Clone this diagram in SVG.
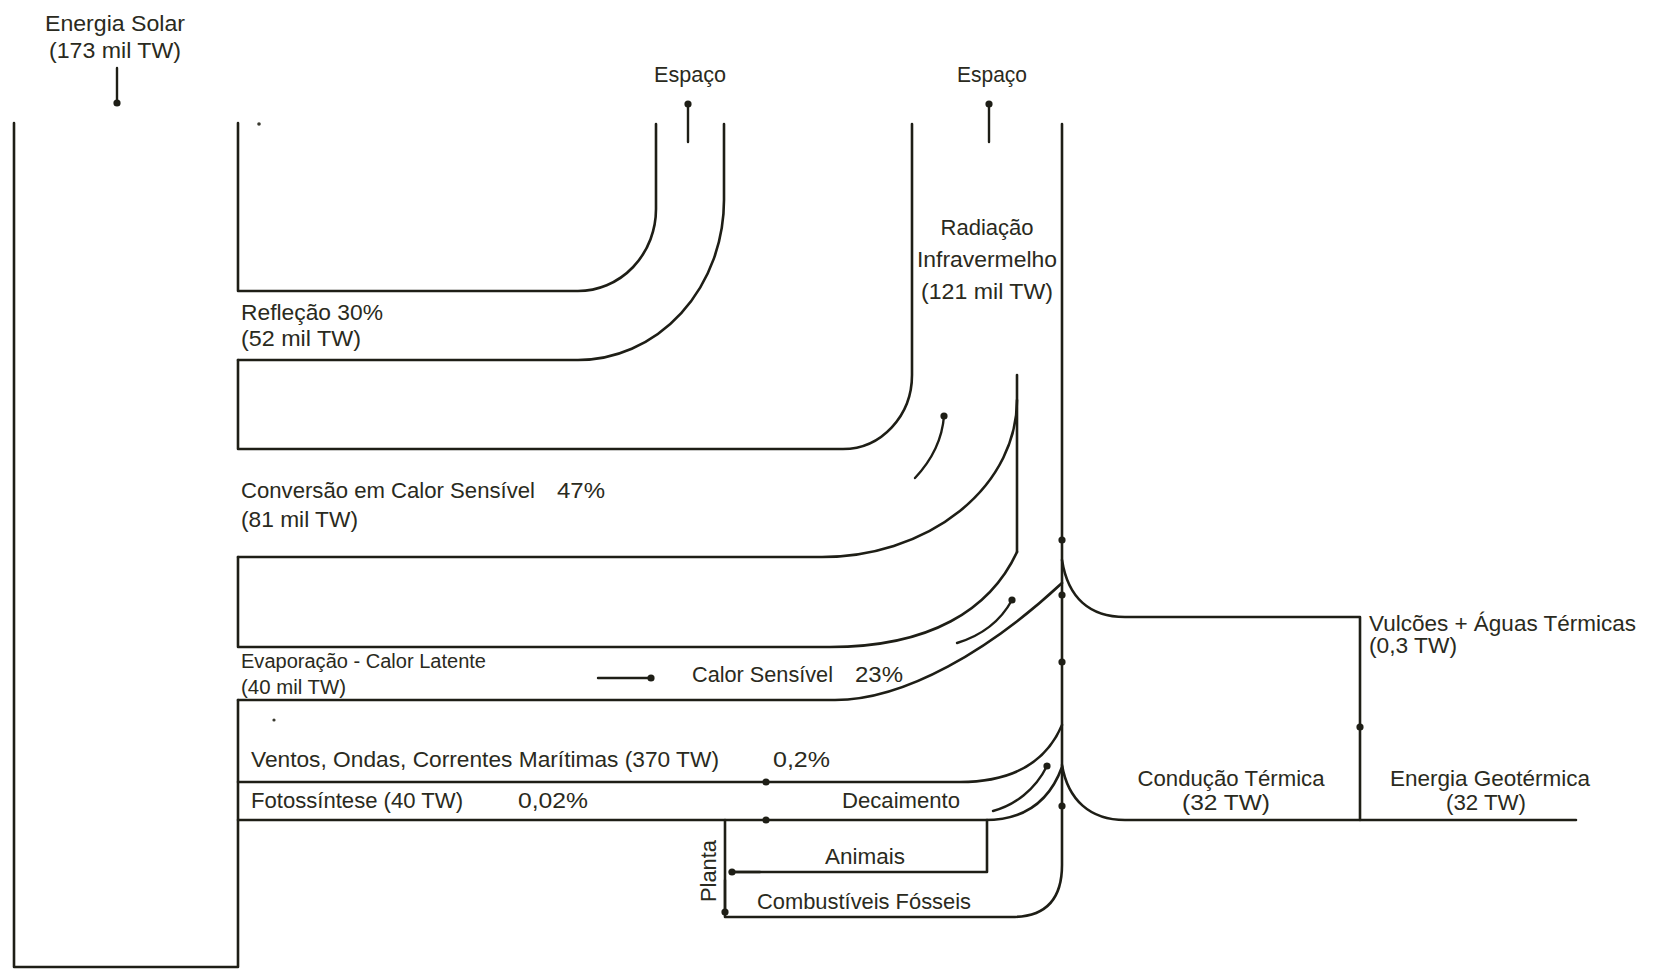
<svg xmlns="http://www.w3.org/2000/svg" width="1658" height="971" viewBox="0 0 1658 971">
<defs>
<style>
.ln{fill:none;stroke:#1e1e16;stroke-width:2.6;stroke-linecap:round;stroke-linejoin:round}
.ar{fill:none;stroke:#1e1e16;stroke-width:2.4;stroke-linecap:round;marker-end:url(#dot)}
.dt{fill:#1e1e16}
.sm{fill:#3a3a30}
text{font-family:"Liberation Sans",Arial,sans-serif;font-size:22px;fill:#2a2a20;lengthAdjust:spacingAndGlyphs}
.s20{font-size:20px}
.mid{text-anchor:middle}
</style>
<marker id="dot" markerUnits="userSpaceOnUse" markerWidth="9" markerHeight="9" refX="4.5" refY="4.5">
<circle cx="4.5" cy="4.5" r="3.6" fill="#1e1e16"/>
</marker>
</defs>
<rect width="1658" height="971" fill="#ffffff"/>

<g id="connectors">
<!-- solar frame -->
<path class="ln" d="M14,123 V967 H238 V700"/>
<!-- reflection band -->
<path class="ln" d="M238,123 V291 H578 A78,82 0 0 0 656,209 V124"/>
<path class="ln" d="M238,360 H578 A146,160 0 0 0 724,200 V124"/>
<!-- conversion band -->
<path class="ln" d="M238,360 V449 H843 A69,74 0 0 0 912,375 V124"/>
<path class="ln" d="M238,557 H822 A195,157 0 0 0 1017,400"/>
<path class="ln" d="M1017,375 V552"/>
<!-- evaporation / latent heat -->
<path class="ln" d="M238,557 V647 H830 C930,647 990,610 1017,552"/>
<path class="ln" d="M238,700 H835 C905,700 990,650 1062,583"/>
<!-- winds and photosynthesis -->
<path class="ln" d="M238,782 H960 C1010,782 1045,765 1062,725"/>
<path class="ln" d="M238,820 H985 C1025,820 1050,800 1062,767"/>
<!-- main infrared column and fossil fuels -->
<path class="ln" d="M1062,124 V865 C1062,900 1045,917 1012,917 H725 V820"/>
<path class="ln" d="M987,820 V872 H730"/>
<!-- geothermal -->
<path class="ln" d="M1062,560 C1068,598 1090,617 1125,617 H1360 V820"/>
<path class="ln" d="M1062,765 C1068,800 1090,820 1125,820 H1576"/>
<!-- arrows -->
<path class="ar" d="M117,68 V103"/>
<path class="ar" d="M688,142 V104"/>
<path class="ar" d="M989,142 V104"/>
<path class="ar" d="M915,478 C930,462 942,442 944,416"/>
<path class="ar" d="M957,643 C980,636 1000,622 1012,600"/>
<path class="ar" d="M993,811 C1015,805 1035,790 1047,766"/>
<path class="ar" d="M598,678 H651"/>
<path class="ar" d="M725,880 V912"/>
<path class="ar" d="M760,872 H732"/>
<!-- junction dots -->
<circle class="dt" cx="766" cy="782" r="3.6"/>
<circle class="dt" cx="766" cy="820" r="3.6"/>
<circle class="dt" cx="1062" cy="540" r="3.6"/>
<circle class="dt" cx="1062" cy="595" r="3.6"/>
<circle class="dt" cx="1062" cy="662" r="3.6"/>
<circle class="dt" cx="1062" cy="806" r="3.6"/>
<circle class="dt" cx="1360" cy="727" r="3.6"/>
<circle class="sm" cx="259" cy="124" r="1.8"/>
<circle class="sm" cx="274" cy="720" r="1.6"/>
</g>

<g id="solar">
<text class="mid" x="115" y="31" textLength="140" lengthAdjust="spacingAndGlyphs">Energia Solar</text>
<text class="mid" x="115" y="58" textLength="132" lengthAdjust="spacingAndGlyphs">(173 mil TW)</text>
</g>
<g id="espaco1"><text class="mid" x="690" y="82" textLength="72" lengthAdjust="spacingAndGlyphs">Espaço</text></g>
<g id="espaco2"><text class="mid" x="992" y="82" textLength="70" lengthAdjust="spacingAndGlyphs">Espaço</text></g>
<g id="radiacao">
<text class="mid" x="987" y="235" textLength="93" lengthAdjust="spacingAndGlyphs">Radiação</text>
<text class="mid" x="987" y="267" textLength="140" lengthAdjust="spacingAndGlyphs">Infravermelho</text>
<text class="mid" x="987" y="299" textLength="132" lengthAdjust="spacingAndGlyphs">(121 mil TW)</text>
</g>
<g id="reflexao">
<text x="241" y="320" textLength="142" lengthAdjust="spacingAndGlyphs">Refleção 30%</text>
<text x="241" y="346" textLength="120" lengthAdjust="spacingAndGlyphs">(52 mil TW)</text>
</g>
<g id="conversao">
<text x="241" y="498" textLength="294" lengthAdjust="spacingAndGlyphs">Conversão em Calor Sensível</text>
<text x="557" y="498" textLength="48" lengthAdjust="spacingAndGlyphs">47%</text>
<text x="241" y="527" textLength="117" lengthAdjust="spacingAndGlyphs">(81 mil TW)</text>
</g>
<g id="evaporacao">
<text class="s20" x="241" y="668" textLength="245" lengthAdjust="spacingAndGlyphs">Evaporação - Calor Latente</text>
<text class="s20" x="241" y="694" textLength="105" lengthAdjust="spacingAndGlyphs">(40 mil TW)</text>
</g>
<g id="calor-sensivel">
<text x="692" y="682" textLength="141" lengthAdjust="spacingAndGlyphs">Calor Sensível</text>
<text x="855" y="682" textLength="48" lengthAdjust="spacingAndGlyphs">23%</text>
</g>
<g id="ventos">
<text x="251" y="767" textLength="468" lengthAdjust="spacingAndGlyphs">Ventos, Ondas, Correntes Marítimas (370 TW)</text>
<text x="773" y="767" textLength="57" lengthAdjust="spacingAndGlyphs">0,2%</text>
</g>
<g id="fotossintese">
<text x="251" y="808" textLength="212" lengthAdjust="spacingAndGlyphs">Fotossíntese (40 TW)</text>
<text x="518" y="808" textLength="70" lengthAdjust="spacingAndGlyphs">0,02%</text>
</g>
<g id="decaimento"><text x="842" y="808" textLength="118" lengthAdjust="spacingAndGlyphs">Decaimento</text></g>
<g id="animais"><text x="825" y="864" textLength="80" lengthAdjust="spacingAndGlyphs">Animais</text></g>
<g id="combustiveis"><text x="757" y="909" textLength="214" lengthAdjust="spacingAndGlyphs">Combustíveis Fósseis</text></g>
<g id="planta"><text transform="translate(716,902) rotate(-90)" x="0" y="0" textLength="62" lengthAdjust="spacingAndGlyphs">Planta</text></g>
<g id="vulcoes">
<text x="1369" y="631" textLength="267" lengthAdjust="spacingAndGlyphs">Vulcões + Águas Térmicas</text>
<text x="1369" y="653" textLength="88" lengthAdjust="spacingAndGlyphs">(0,3 TW)</text>
</g>
<g id="conducao">
<text class="mid" x="1231" y="786" textLength="187" lengthAdjust="spacingAndGlyphs">Condução Térmica</text>
<text class="mid" x="1226" y="810" textLength="88" lengthAdjust="spacingAndGlyphs">(32 TW)</text>
</g>
<g id="geotermica">
<text class="mid" x="1490" y="786" textLength="200" lengthAdjust="spacingAndGlyphs">Energia Geotérmica</text>
<text class="mid" x="1486" y="810" textLength="80" lengthAdjust="spacingAndGlyphs">(32 TW)</text>
</g>
</svg>
